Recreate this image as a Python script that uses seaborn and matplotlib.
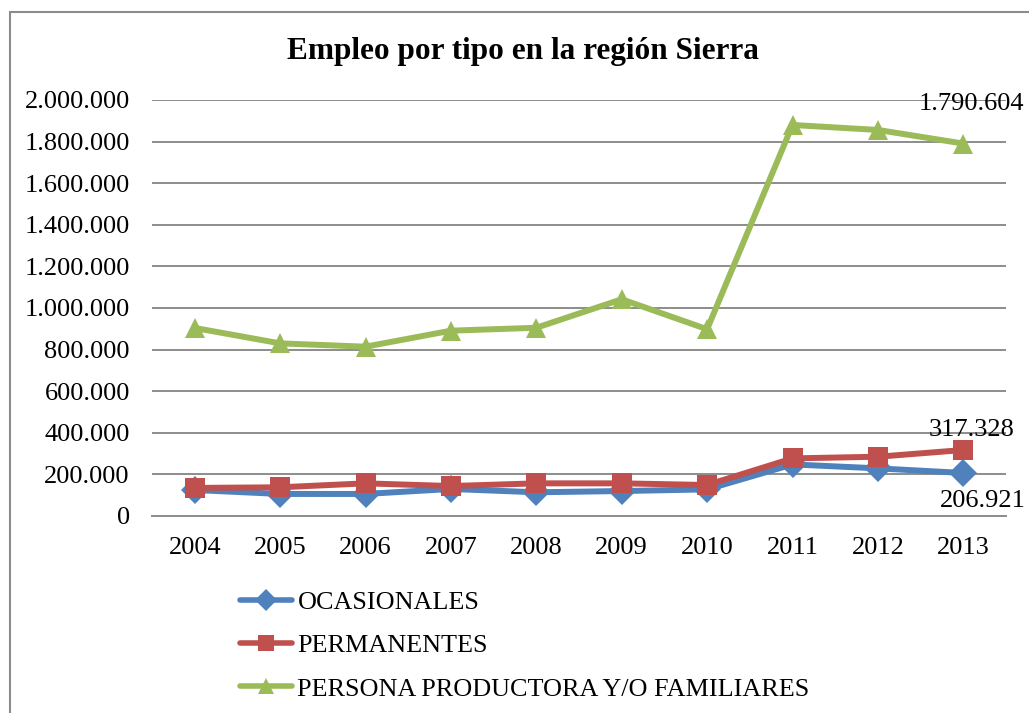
import numpy as np
import pandas as pd
import matplotlib
matplotlib.use("Agg")
import matplotlib.pyplot as plt
import seaborn as sns
from matplotlib.lines import Line2D
from matplotlib.ticker import FuncFormatter

years = [2004, 2005, 2006, 2007, 2008, 2009, 2010, 2011, 2012, 2013]
ocasionales = [125000, 106000, 106000, 130000, 114000, 120000, 128000, 248000, 229000, 206921]
permanentes = [135000, 138000, 157000, 144000, 157000, 157000, 149000, 277000, 285000, 317328]
persona = [904000, 830000, 814000, 891000, 905000, 1042000, 898000, 1880000, 1856000, 1790604]
series_names = ["OCASIONALES", "PERMANENTES", "PERSONA PRODUCTORA Y/O FAMILIARES"]
colors = ["#4F81BD", "#C0504D", "#9BBB59"]
markers = ["D", "s", "^"]
yticks = [0, 200000, 400000, 600000, 800000, 1000000, 1200000, 1400000, 1600000, 1800000, 2000000]

sns.set_theme(style="white")
plt.rcParams['font.family'] = ['Liberation Serif', 'DejaVu Serif']
plt.rcParams['text.color'] = 'black'

df = pd.DataFrame({
    "pos": list(range(len(years))) * 3,
    "valor": ocasionales + permanentes + persona,
    "serie": [series_names[0]] * 10 + [series_names[1]] * 10 + [series_names[2]] * 10,
})

fig = plt.figure(figsize=(10.29, 7.13), dpi=100)
ax = fig.add_axes([152 / 1029, 1 - 516 / 713, (1006 - 152) / 1029, (516 - 100) / 713])

sns.lineplot(data=df, x="pos", y="valor", hue="serie", style="serie",
             hue_order=series_names, style_order=series_names,
             palette=dict(zip(series_names, colors)),
             markers=dict(zip(series_names, markers)), dashes=False,
             linewidth=4.3, markersize=14, markeredgewidth=0, ax=ax, legend=False)

ax.set_xlim(-0.5, len(years) - 0.5)
ax.set_ylim(0, 2000000)
ax.set_yticks(yticks)
ax.yaxis.set_major_formatter(FuncFormatter(lambda v, p: f"{int(v):,}".replace(",", ".")))
ax.set_xticks(range(len(years)))
ax.set_xticklabels([str(y) for y in years])
ax.set_xlabel("")
ax.set_ylabel("")
ax.grid(axis="y", color="#8C8C8C", linewidth=1.4)
ax.set_axisbelow(True)
for s in ["top", "right", "left"]:
    ax.spines[s].set_visible(False)
ax.spines["bottom"].set_color("#8C8C8C")
ax.spines["bottom"].set_linewidth(1.4)
ax.tick_params(axis="y", length=0, pad=16, labelsize=19, labelcolor="black")
ax.tick_params(axis="x", length=0, pad=15, labelsize=19, labelcolor="black")

# data labels on last points
ax.annotate("1.790.604", xy=(9, persona[-1]), xytext=(8, 40), textcoords="offset pixels",
            ha="center", va="center", fontsize=19, color="black", annotation_clip=False)
ax.annotate("317.328", xy=(9, permanentes[-1]), xytext=(8, 20), textcoords="offset pixels",
            ha="center", va="center", fontsize=19, color="black", annotation_clip=False)
ax.annotate("206.921", xy=(9, ocasionales[-1]), xytext=(20, -28), textcoords="offset pixels",
            ha="center", va="center", fontsize=19, color="black", annotation_clip=False)

fig.text(523 / 1029, 1 - 51 / 713, "Empleo por tipo en la región Sierra",
         ha="center", va="center", fontsize=22.5, fontweight="bold", color="black")

handles = [Line2D([0], [0], color=c, marker=m, linewidth=4, markersize=11, markeredgewidth=0)
           for c, m in zip(colors, markers)]
leg = fig.legend(handles, series_names, loc="upper left", bbox_to_anchor=(240 / 1029, 1 - 591 / 713),
                 frameon=False, fontsize=18.8, handlelength=2.0, handletextpad=0.2,
                 labelspacing=0.76, borderaxespad=0, borderpad=0)
for t in leg.get_texts():
    t.set_color("black")

# outer chart border (top and left edges visible)
fig.add_artist(Line2D([10 / 1029, 10 / 1029], [0, 1 - 12 / 713], transform=fig.transFigure,
                      color="#8C8C8C", linewidth=1.5))
fig.add_artist(Line2D([10 / 1029, 1], [1 - 12 / 713, 1 - 12 / 713], transform=fig.transFigure,
                      color="#8C8C8C", linewidth=1.5))

fig.savefig("out.png", dpi=100)
